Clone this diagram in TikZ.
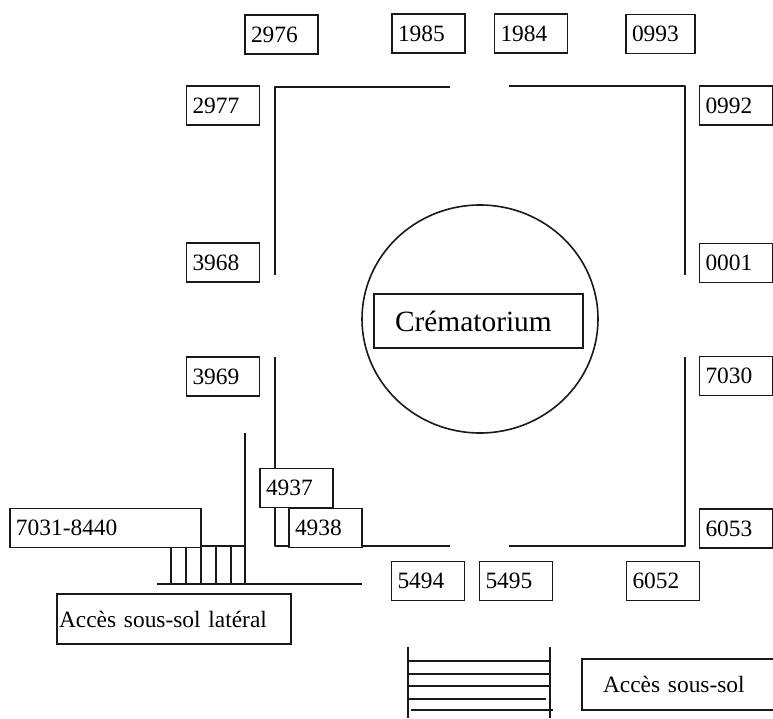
\documentclass[tikz,border=0pt]{standalone}
\usepackage{fontspec}
\usetikzlibrary{shapes.geometric}
\setmainfont{Liberation Serif}
\tikzset{
 wall/.style={line width=1.7pt,line join=round,black!90},
 cell/.style={draw=black!90,line width=1.8pt,fill=white,rectangle,minimum width=73pt,minimum height=39pt,text width=61pt,inner sep=6pt,align=left,font=\fontsize{23.4}{26}\selectfont},
}
\begin{document}
\begin{tikzpicture}[x=1pt,y=-1pt]
\useasboundingbox (0,0) rectangle (773,718);
% walls
\draw[wall] (450,87) -- (275,87) -- (275,275);
\draw[wall] (509,86) -- (685,86) -- (685,275);
\draw[wall] (275,357) -- (275,546) -- (450,546);
\draw[wall] (685,357) -- (685,546) -- (509,546);
% side stairs
\draw[wall] (245,433) -- (245,584);
\draw[wall] (157,584) -- (362,584);
\draw[wall] (201,546) -- (245,546);
\foreach \x in {171,186,201,216,231} \draw[wall] (\x,546) -- (\x,584);
% main stairs
\draw[wall] (408,647) -- (408,718);
\draw[wall] (550,647) -- (550,718);
\draw[wall] (408,661) -- (550,661);
\draw[wall] (407,674) -- (549,674);
\draw[wall] (408,686) -- (550,686);
\draw[wall] (407,699) -- (546,699);
\draw[wall] (411,710) -- (553,710);
% crematorium
\node[draw=black!90,line width=1.6pt,ellipse,minimum width=236pt,minimum height=228pt,inner sep=0pt] (ring) at (480,319) {};
\node[draw=black!90,line width=1.8pt,fill=white,rectangle,minimum width=209pt,minimum height=54pt,text width=209pt,inner sep=0pt,align=left,font=\fontsize{29.4}{32}\selectfont] (crem) at (478.5,321) {\hspace*{21pt}Crématorium};
% cells
\node[cell] (c2976) at (281.5,34.5) {2976};
\node[cell] (c1985) at (428.5,33.5) {1985};
\node[cell] (c1984) at (531,33.5) {1984};
\node[cell,minimum width=69pt,text width=57pt] (c0993) at (660.5,34) {0993};
\node[cell] (c2977) at (223,105.5) {2977};
\node[cell] (c0992) at (736,105.5) {0992};
\node[cell] (c3968) at (223,262.5) {3968};
\node[cell] (c0001) at (736,263) {0001};
\node[cell] (c3969) at (223,376.5) {3969};
\node[cell] (c7030) at (736,376) {7030};
\node[cell] (c4937) at (296.5,488) {4937};
\node[cell] (c4938) at (325.5,528) {4938};
\node[cell] (c6053) at (736,528.5) {6053};
\node[cell] (c5494) at (428,581) {5494};
\node[cell] (c5495) at (516,581) {5495};
\node[cell] (c6052) at (663,581) {6052};
\node[cell,minimum width=191pt,text width=179pt] (c7031) at (105.5,528) {7031-8440};
\node[cell,minimum width=234pt,minimum height=50pt,text width=232pt,inner sep=1pt] (lat) at (174,619) {\hspace*{1pt}Accès sous-sol latéral};
\node[cell,minimum width=193pt,minimum height=51pt,text width=171pt,inner sep=11pt] (ssol) at (678.5,684.5) {\hspace*{10pt}Accès sous-sol};
\end{tikzpicture}
\end{document}
